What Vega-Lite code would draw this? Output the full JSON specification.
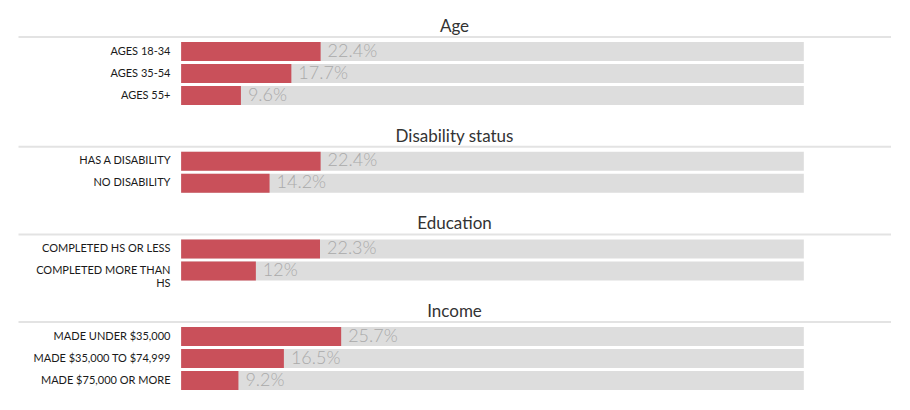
{
  "$schema": "https://vega.github.io/schema/vega-lite/v6.json",
  "padding": {"left": 18, "top": 17.5, "right": 0, "bottom": 0},
  "bounds": "flush",
  "spacing": 43.7,
  "config": {
    "font": "Lato",
    "view": {"stroke": null},
    "title": {"fontSize": 17, "fontWeight": "normal", "color": "#333333", "offset": 0.5, "anchor": "middle"}
  },
  "data": {
    "values": [
      {"group": "Age", "label": "AGES 18-34", "value": 0.224},
      {"group": "Age", "label": "AGES 35-54", "value": 0.177},
      {"group": "Age", "label": "AGES 55+", "value": 0.096},
      {"group": "Disability status", "label": "HAS A DISABILITY", "value": 0.224},
      {"group": "Disability status", "label": "NO DISABILITY", "value": 0.142},
      {"group": "Education", "label": "COMPLETED HS OR LESS", "value": 0.223},
      {"group": "Education", "label": "COMPLETED MORE THAN HS", "value": 0.12},
      {"group": "Income", "label": "MADE UNDER $35,000", "value": 0.257},
      {"group": "Income", "label": "MADE $35,000 TO $74,999", "value": 0.165},
      {"group": "Income", "label": "MADE $75,000 OR MORE", "value": 0.092}
    ]
  },
  "vconcat": [
    {
      "title": "Age",
      "transform": [{"filter": "datum.group == 'Age'"}],
      "width": 873, "height": 66,
      "encoding": {"y": {"field": "label", "type": "nominal", "sort": null, "scale": {"paddingInner": 0.136, "paddingOuter": 0.068},
        "axis": {"orient": "left", "offset": -163, "ticks": false, "domain": false, "labelPadding": 11, "labelFontSize": 11, "labelColor": "#1a1a1a", "labelLimit": 300, "title": null,
          "labelExpr": "datum.label == 'COMPLETED MORE THAN HS' ? ['COMPLETED MORE THAN', 'HS'] : datum.label"}}},
      "layer": [
        {"mark": {"type": "bar", "color": "#dddddd"},
         "encoding": {"x": {"datum": 0, "type": "quantitative", "scale": {"domain": [-0.262, 1.14], "nice": false, "zero": false},
            "axis": {"orient": "top", "offset": 4, "domain": true, "domainColor": "#e3e3e3", "domainWidth": 2, "ticks": false, "labels": false, "grid": false, "title": null}},
           "x2": {"datum": 1}}},
        {"mark": {"type": "bar", "color": "#c9505a"},
         "encoding": {"x": {"field": "value", "type": "quantitative"}}},
        {"mark": {"type": "text", "align": "left", "dx": 7, "fontSize": 18, "color": "#aaaaaa", "fontWeight": 300},
         "encoding": {"x": {"field": "value", "type": "quantitative"}, "text": {"field": "value", "type": "quantitative", "format": ".1~%"}}}
      ]
    },
    {
      "title": "Disability status",
      "transform": [{"filter": "datum.group == 'Disability status'"}],
      "width": 873, "height": 44,
      "encoding": {"y": {"field": "label", "type": "nominal", "sort": null, "scale": {"paddingInner": 0.136, "paddingOuter": 0.068},
        "axis": {"orient": "left", "offset": -163, "ticks": false, "domain": false, "labelPadding": 11, "labelFontSize": 11, "labelColor": "#1a1a1a", "labelLimit": 300, "title": null,
          "labelExpr": "datum.label == 'COMPLETED MORE THAN HS' ? ['COMPLETED MORE THAN', 'HS'] : datum.label"}}},
      "layer": [
        {"mark": {"type": "bar", "color": "#dddddd"},
         "encoding": {"x": {"datum": 0, "type": "quantitative", "scale": {"domain": [-0.262, 1.14], "nice": false, "zero": false},
            "axis": {"orient": "top", "offset": 4, "domain": true, "domainColor": "#e3e3e3", "domainWidth": 2, "ticks": false, "labels": false, "grid": false, "title": null}},
           "x2": {"datum": 1}}},
        {"mark": {"type": "bar", "color": "#c9505a"},
         "encoding": {"x": {"field": "value", "type": "quantitative"}}},
        {"mark": {"type": "text", "align": "left", "dx": 7, "fontSize": 18, "color": "#aaaaaa", "fontWeight": 300},
         "encoding": {"x": {"field": "value", "type": "quantitative"}, "text": {"field": "value", "type": "quantitative", "format": ".1~%"}}}
      ]
    },
    {
      "title": "Education",
      "transform": [{"filter": "datum.group == 'Education'"}],
      "width": 873, "height": 44,
      "encoding": {"y": {"field": "label", "type": "nominal", "sort": null, "scale": {"paddingInner": 0.136, "paddingOuter": 0.068},
        "axis": {"orient": "left", "offset": -163, "ticks": false, "domain": false, "labelPadding": 11, "labelFontSize": 11, "labelColor": "#1a1a1a", "labelLimit": 300, "title": null,
          "labelExpr": "datum.label == 'COMPLETED MORE THAN HS' ? ['COMPLETED MORE THAN', 'HS'] : datum.label"}}},
      "layer": [
        {"mark": {"type": "bar", "color": "#dddddd"},
         "encoding": {"x": {"datum": 0, "type": "quantitative", "scale": {"domain": [-0.262, 1.14], "nice": false, "zero": false},
            "axis": {"orient": "top", "offset": 4, "domain": true, "domainColor": "#e3e3e3", "domainWidth": 2, "ticks": false, "labels": false, "grid": false, "title": null}},
           "x2": {"datum": 1}}},
        {"mark": {"type": "bar", "color": "#c9505a"},
         "encoding": {"x": {"field": "value", "type": "quantitative"}}},
        {"mark": {"type": "text", "align": "left", "dx": 7, "fontSize": 18, "color": "#aaaaaa", "fontWeight": 300},
         "encoding": {"x": {"field": "value", "type": "quantitative"}, "text": {"field": "value", "type": "quantitative", "format": ".1~%"}}}
      ]
    },
    {
      "title": "Income",
      "transform": [{"filter": "datum.group == 'Income'"}],
      "width": 873, "height": 66,
      "encoding": {"y": {"field": "label", "type": "nominal", "sort": null, "scale": {"paddingInner": 0.136, "paddingOuter": 0.068},
        "axis": {"orient": "left", "offset": -163, "ticks": false, "domain": false, "labelPadding": 11, "labelFontSize": 11, "labelColor": "#1a1a1a", "labelLimit": 300, "title": null,
          "labelExpr": "datum.label == 'COMPLETED MORE THAN HS' ? ['COMPLETED MORE THAN', 'HS'] : datum.label"}}},
      "layer": [
        {"mark": {"type": "bar", "color": "#dddddd"},
         "encoding": {"x": {"datum": 0, "type": "quantitative", "scale": {"domain": [-0.262, 1.14], "nice": false, "zero": false},
            "axis": {"orient": "top", "offset": 4, "domain": true, "domainColor": "#e3e3e3", "domainWidth": 2, "ticks": false, "labels": false, "grid": false, "title": null}},
           "x2": {"datum": 1}}},
        {"mark": {"type": "bar", "color": "#c9505a"},
         "encoding": {"x": {"field": "value", "type": "quantitative"}}},
        {"mark": {"type": "text", "align": "left", "dx": 7, "fontSize": 18, "color": "#aaaaaa", "fontWeight": 300},
         "encoding": {"x": {"field": "value", "type": "quantitative"}, "text": {"field": "value", "type": "quantitative", "format": ".1~%"}}}
      ]
    }
  ]
}
